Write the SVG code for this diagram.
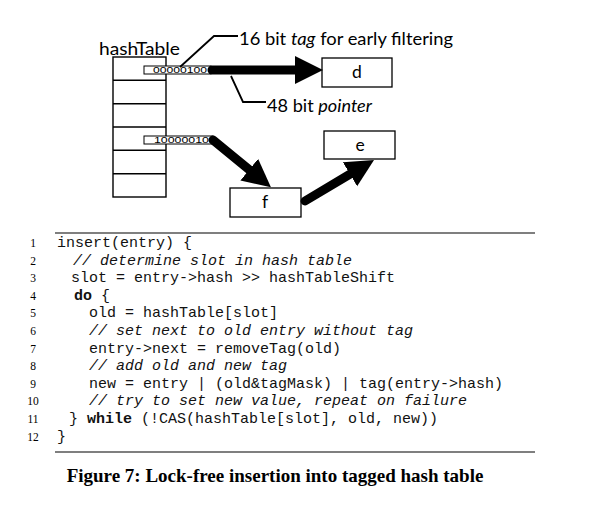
<svg xmlns="http://www.w3.org/2000/svg" width="590" height="512" viewBox="0 0 590 512">
<style>
.bg{fill:#fff}
.box{fill:#fff;stroke:#000;stroke-width:1.3}
.tbl{fill:#fff;stroke:#000;stroke-width:1.4}
.row{stroke:#000;stroke-width:1.4}
.lbl{font-family:Lato,"Open Sans","Liberation Sans",sans-serif;font-size:17.5px;fill:#000}
.tag{fill:#fff;stroke:#000;stroke-width:1}
.tagt{font-family:"Liberation Sans",sans-serif;font-size:9px;fill:#000}
.arrow{stroke:#000;stroke-width:9;stroke-linecap:round;fill:none;marker-end:url(#head)}
.lead{stroke:#000;stroke-width:1.8;fill:none}
.code{font-family:"Liberation Mono","Courier New",monospace;font-size:15px;fill:#111}
.cm{font-style:italic}
.kw{font-weight:bold}
.num{font-family:"Liberation Serif","Times New Roman",serif;font-size:11.5px;fill:#000;text-anchor:middle}
.rule{stroke:#000;stroke-width:1.2}
.cap{font-family:"Liberation Serif","Times New Roman",serif;font-size:19px;font-weight:bold;fill:#000;text-anchor:middle}
</style>
<defs>
<marker id="head" markerUnits="userSpaceOnUse" markerWidth="30" markerHeight="30" viewBox="0 0 30 30" refX="2" refY="14" orient="auto">
<path d="M0,0 L28,14 L0,28 z" fill="#000"/>
</marker>
</defs>
<rect class="bg" x="0" y="0" width="590" height="512"/>

<g id="hashTable">
<text class="lbl" x="99" y="55" textLength="81" lengthAdjust="spacingAndGlyphs">hashTable</text>
<rect class="tbl" x="113" y="57" width="53" height="140"/>
<line class="row" x1="113" y1="80.3" x2="166" y2="80.3"/>
<line class="row" x1="113" y1="103.7" x2="166" y2="103.7"/>
<line class="row" x1="113" y1="127" x2="166" y2="127"/>
<line class="row" x1="113" y1="150.3" x2="166" y2="150.3"/>
<line class="row" x1="113" y1="173.7" x2="166" y2="173.7"/>
<rect class="tag" x="144" y="66" width="67" height="8"/>
<text class="tagt" x="153" y="73.3" textLength="54" lengthAdjust="spacingAndGlyphs">00000100</text>
<rect class="tag" x="144" y="136" width="69" height="8"/>
<text class="tagt" x="154" y="143.3" textLength="55" lengthAdjust="spacingAndGlyphs">10000010</text>
</g>

<g id="node-d">
<rect class="box" x="322" y="58" width="70" height="29"/>
<text class="lbl" x="357" y="78" text-anchor="middle">d</text>
</g>
<g id="node-e">
<rect class="box" x="324" y="131" width="71" height="28"/>
<text class="lbl" x="360" y="151" text-anchor="middle">e</text>
</g>
<g id="node-f">
<rect class="box" x="230" y="188" width="71" height="29"/>
<text class="lbl" x="265" y="208" text-anchor="middle">f</text>
</g>

<g id="connectors">
<line class="arrow" x1="212" y1="70" x2="297" y2="70"/>
<line class="arrow" x1="213" y1="140" x2="250.8" y2="170.9"/>
<line class="arrow" x1="305" y1="201" x2="351.7" y2="173.2"/>
</g>

<g id="annotations">
<polyline class="lead" points="180,67 214,36 238,36"/>
<text class="lbl" x="239" y="45" textLength="214" lengthAdjust="spacingAndGlyphs">16 bit <tspan font-style="italic">tag</tspan> for early filtering</text>
<polyline class="lead" points="231,76 243,102 266,102"/>
<text class="lbl" x="267" y="112" textLength="105" lengthAdjust="spacingAndGlyphs">48 bit <tspan font-style="italic">pointer</tspan></text>
</g>

<g id="listing">
<line class="rule" x1="55" y1="233" x2="535" y2="233"/>
<text class="num" x="33" y="247">1</text>
<text class="num" x="33" y="264.6">2</text>
<text class="num" x="33" y="282.2">3</text>
<text class="num" x="33" y="299.8">4</text>
<text class="num" x="33" y="317.4">5</text>
<text class="num" x="33" y="335">6</text>
<text class="num" x="33" y="352.6">7</text>
<text class="num" x="33" y="370.2">8</text>
<text class="num" x="33" y="387.8">9</text>
<text class="num" x="33" y="405.4">10</text>
<text class="num" x="33" y="423">11</text>
<text class="num" x="33" y="440.6">12</text>
<text class="code" x="57" y="247">insert(entry) {</text>
<text class="code cm" x="73" y="264.6">// determine slot in hash table</text>
<text class="code" x="71" y="282.2">slot = entry-&gt;hash &gt;&gt; hashTableShift</text>
<text class="code" x="74" y="299.8"><tspan class="kw">do</tspan> {</text>
<text class="code" x="89" y="317.4">old = hashTable[slot]</text>
<text class="code cm" x="89" y="335">// set next to old entry without tag</text>
<text class="code" x="89" y="352.6">entry-&gt;next = removeTag(old)</text>
<text class="code cm" x="89" y="370.2">// add old and new tag</text>
<text class="code" x="89" y="387.8">new = entry | (old&amp;tagMask) | tag(entry-&gt;hash)</text>
<text class="code cm" x="89" y="405.4">// try to set new value, repeat on failure</text>
<text class="code" x="69" y="423">} <tspan class="kw">while</tspan> (!CAS(hashTable[slot], old, new))</text>
<text class="code" x="57" y="440.6">}</text>
<line class="rule" x1="55" y1="452" x2="535" y2="452"/>
<text class="cap" x="275" y="482">Figure 7: Lock-free insertion into tagged hash table</text>
</g>
</svg>
